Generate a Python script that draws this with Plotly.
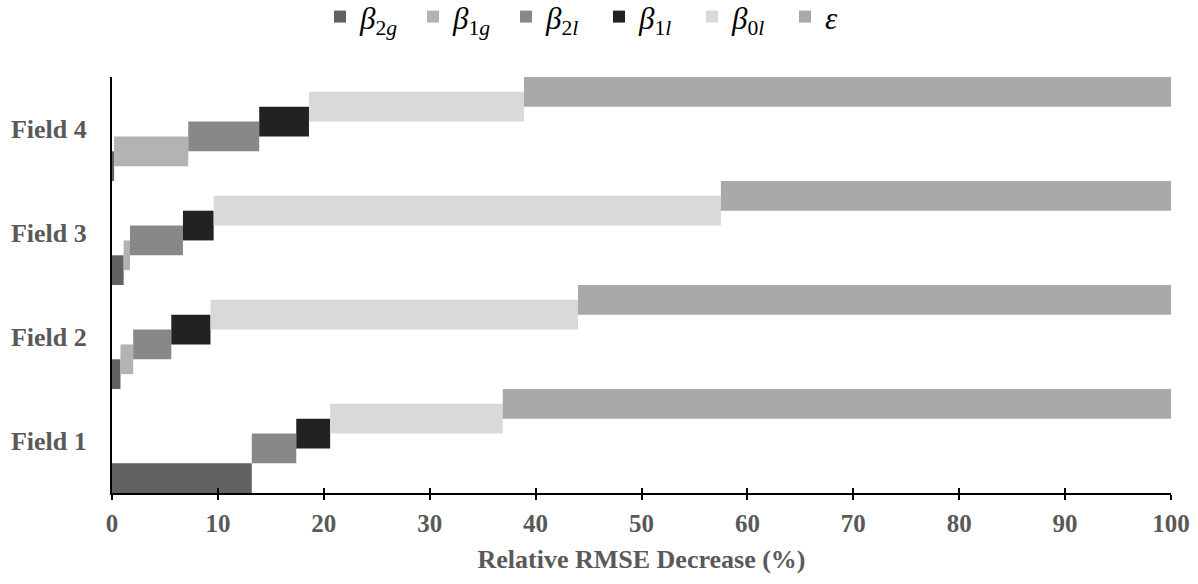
import plotly.graph_objects as go

fields = ["Field 1", "Field 2", "Field 3", "Field 4"]
series_names = ["<i>β</i><sub>2<i>g</i></sub>", "<i>β</i><sub>1<i>g</i></sub>",
                "<i>β</i><sub>2<i>l</i></sub>", "<i>β</i><sub>1<i>l</i></sub>",
                "<i>β</i><sub>0<i>l</i></sub>", "<i>ε</i>"]
beta_2g = [13.2, 0.8, 1.1, 0.2]
beta_1g = [0.0, 1.2, 0.6, 7.0]
beta_2l = [4.2, 3.6, 5.0, 6.7]
beta_1l = [3.2, 3.7, 2.9, 4.7]
beta_0l = [16.3, 34.7, 47.9, 20.3]
epsilon = [63.1, 56.0, 42.5, 61.1]
colors = ["#626262", "#b3b3b3", "#888888", "#222222", "#d9d9d9", "#a9a9a9"]

series = [beta_2g, beta_1g, beta_2l, beta_1l, beta_0l, epsilon]

fig = go.Figure()
step = 1.0 / 7
base = [0.0] * len(fields)
for i, (name, vals, col) in enumerate(zip(series_names, series, colors)):
    fig.add_trace(go.Bar(
        y=fields, x=vals, base=list(base), orientation="h", name=name,
        marker=dict(color=col, line=dict(width=0)),
        offset=-0.5 + i * step, width=2 * step,
    ))
    base = [b + v for b, v in zip(base, vals)]

tick_font_x = dict(family="Liberation Serif", size=25, color="#595959", weight="bold")
label_font = dict(family="Liberation Serif", size=26, color="#595959", weight="bold")

fig.update_layout(
    width=1198, height=584,
    margin=dict(l=112, r=27, t=77, b=91, autoexpand=False),
    paper_bgcolor="white", plot_bgcolor="white",
    barmode="overlay",
    showlegend=True,
    legend=dict(orientation="h", xref="container", yref="container",
                x=0.5, xanchor="center", y=0.971, yanchor="middle",
                font=dict(family="Liberation Serif", size=31, color="#000000"),
                traceorder="normal", itemwidth=30, entrywidth=48,
                entrywidthmode="pixels"),
    xaxis=dict(range=[0, 100], dtick=10, showgrid=False, zeroline=False,
               showline=True, linecolor="black", linewidth=2,
               ticks="outside", ticklen=5, tickwidth=2, tickcolor="black",
               tickfont=tick_font_x, ticklabelstandoff=2,
               title=dict(text="Relative RMSE Decrease (%)", font=label_font, standoff=14)),
    xaxis2=dict(range=[0, 100], dtick=10, overlaying="x", matches="x", side="bottom",
                showgrid=False, zeroline=False, showticklabels=False,
                ticks="inside", ticklen=5, tickwidth=2, tickcolor="black"),
    yaxis=dict(categoryorder="array", categoryarray=fields, range=[-0.5, 3.5],
               showgrid=False, zeroline=False, showline=True, linecolor="black",
               linewidth=2, ticks="", tickfont=label_font, ticklabelstandoff=18),
)
fig.add_trace(go.Scatter(x=[0], y=[fields[0]], xaxis="x2", mode="markers",
                         marker=dict(opacity=0), showlegend=False, hoverinfo="skip"))

fig.write_html("out.html")
